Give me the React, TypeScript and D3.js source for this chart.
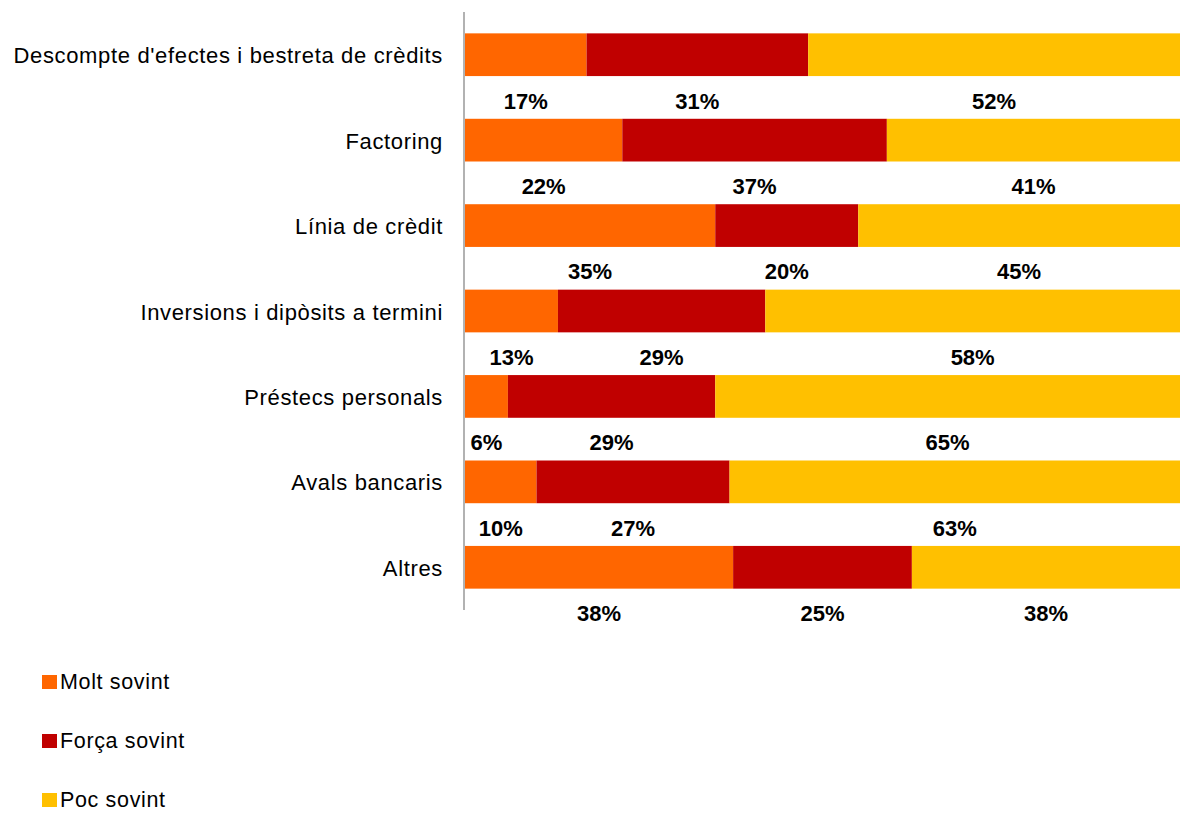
import React from "react";
import * as d3 from "d3";

const categories = [
  "Descompte d'efectes i bestreta de crèdits",
  "Factoring",
  "Línia de crèdit",
  "Inversions i dipòsits a termini",
  "Préstecs personals",
  "Avals bancaris",
  "Altres",
];
const seriesNames = ["Molt sovint", "Força sovint", "Poc sovint"];
const moltSovint = [17, 22, 35, 13, 6, 10, 37.5];
const forcaSovint = [31, 37, 20, 29, 29, 27, 25];
const pocSovint = [52, 41, 45, 58, 65, 63, 37.5];
const colors = ["#FF6600", "#C00000", "#FFC000"];

const W = 1181;
const H = 813;

export default function App() {
  const rows = categories.map((c, i) => ({
    cat: c,
    v: [moltSovint[i], forcaSovint[i], pocSovint[i]],
  }));
  const y = d3
    .scaleBand<string>()
    .domain(categories)
    .range([12, 610])
    .paddingInner(0.5)
    .paddingOuter(0.25);
  const x = d3.scaleLinear().domain([0, 100]).range([465, 1180]);
  const font = "'Liberation Sans', Arial, sans-serif";

  return (
    <svg
      width={W}
      height={H}
      style={{ position: "absolute", left: 0, top: 0, background: "#fff" }}
      fontFamily={font}
    >
      {rows.map((r) => {
        const total = d3.sum(r.v);
        let acc = 0;
        const by = y(r.cat)!;
        const bh = y.bandwidth();
        return (
          <g key={r.cat}>
            <text
              x={443}
              y={by + bh / 2 + 1}
              textAnchor="end"
              dominantBaseline="central"
              fontSize={22}
              letterSpacing={0.65}
              fill="#000"
            >
              {r.cat}
            </text>
            {r.v.map((v, j) => {
              const x0 = x((acc / total) * 100);
              acc += v;
              const x1 = x((acc / total) * 100);
              return (
                <g key={j}>
                  <rect x={x0} y={by} width={x1 - x0} height={bh} fill={colors[j]} />
                  <text
                    x={(x0 + x1) / 2}
                    y={by + bh + 25}
                    textAnchor="middle"
                    dominantBaseline="central"
                    fontSize={22}
                    fontWeight="bold"
                    fill="#000"
                  >
                    {Math.round(v)}%
                  </text>
                </g>
              );
            })}
          </g>
        );
      })}
      <line x1={464} x2={464} y1={12} y2={610} stroke="#999" strokeWidth={1.5} />
      {seriesNames.map((s, i) => {
        const ly = 682 + i * 59;
        return (
          <g key={s}>
            <rect x={42} y={ly - 7} width={15} height={14} fill={colors[i]} />
            <text
              x={60}
              y={ly}
              dominantBaseline="central"
              fontSize={21.5}
              letterSpacing={0.65}
              fill="#000"
            >
              {s}
            </text>
          </g>
        );
      })}
    </svg>
  );
}
